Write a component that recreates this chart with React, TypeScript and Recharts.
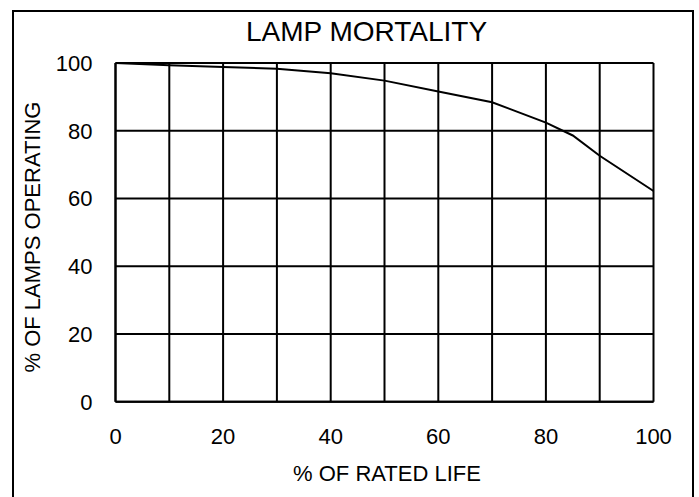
import { LineChart, Line, XAxis, YAxis, CartesianGrid } from 'recharts'

const lifePct = [0, 10, 20, 30, 40, 50, 60, 70, 80, 85, 90, 100]
const operatingPct = [100, 99.3, 98.8, 98.3, 97.0, 94.8, 91.6, 88.4, 82.4, 78.6, 72.6, 62.2]
const xTicks = [0, 10, 20, 30, 40, 50, 60, 70, 80, 90, 100]
const yTicks = [0, 20, 40, 60, 80, 100]

const font = '"Liberation Sans", Arial, sans-serif'

export default function App() {
  const data = lifePct.map((x, i) => ({ life: x, operating: operatingPct[i] }))

  return (
    <div
      style={{
        position: 'fixed',
        left: 0,
        top: 0,
        width: 699,
        height: 497,
        overflow: 'hidden',
        background: '#fff',
        fontFamily: font,
      }}
    >
      <div
        style={{
          position: 'absolute',
          left: 12,
          top: 10,
          width: 678,
          height: 500,
          border: '2px solid #000',
        }}
      />
      <LineChart
        width={699}
        height={497}
        data={data}
        margin={{ top: 63, right: 45.5, bottom: 65.3, left: 0 }}
      >
        <CartesianGrid stroke="#000" strokeWidth={2} />
        <XAxis
          dataKey="life"
          type="number"
          domain={[0, 100]}
          ticks={xTicks}
          tickFormatter={v => (v % 20 === 0 ? String(v) : '')}
          height={30}
          tickSize={0}
          tickMargin={27}
          tick={{ fill: '#000', fontSize: 22, fontFamily: font }}
          axisLine={{ stroke: '#000', strokeWidth: 2 }}
        />
        <YAxis
          type="number"
          domain={[0, 100]}
          ticks={yTicks}
          width={115.5}
          tickSize={0}
          tickMargin={23}
          tick={{ fill: '#000', fontSize: 22, fontFamily: font }}
          axisLine={{ stroke: '#000', strokeWidth: 2 }}
        />
        <Line
          dataKey="operating"
          type="linear"
          stroke="#000"
          strokeWidth={2}
          dot={false}
          isAnimationActive={false}
        />
      </LineChart>
      <div
        style={{
          position: 'absolute',
          left: 366.5,
          top: 31.7,
          transform: 'translate(-50%, -50%)',
          fontSize: 28,
          whiteSpace: 'nowrap',
          color: '#000',
        }}
      >
        LAMP MORTALITY
      </div>
      <div
        style={{
          position: 'absolute',
          left: 387,
          top: 474,
          transform: 'translate(-50%, -50%)',
          fontSize: 22,
          whiteSpace: 'nowrap',
          color: '#000',
        }}
      >
        % OF RATED LIFE
      </div>
      <div
        style={{
          position: 'absolute',
          left: 33,
          top: 237,
          transform: 'translate(-50%, -50%) rotate(-90deg)',
          fontSize: 22,
          whiteSpace: 'nowrap',
          color: '#000',
        }}
      >
        % OF LAMPS OPERATING
      </div>
    </div>
  )
}
